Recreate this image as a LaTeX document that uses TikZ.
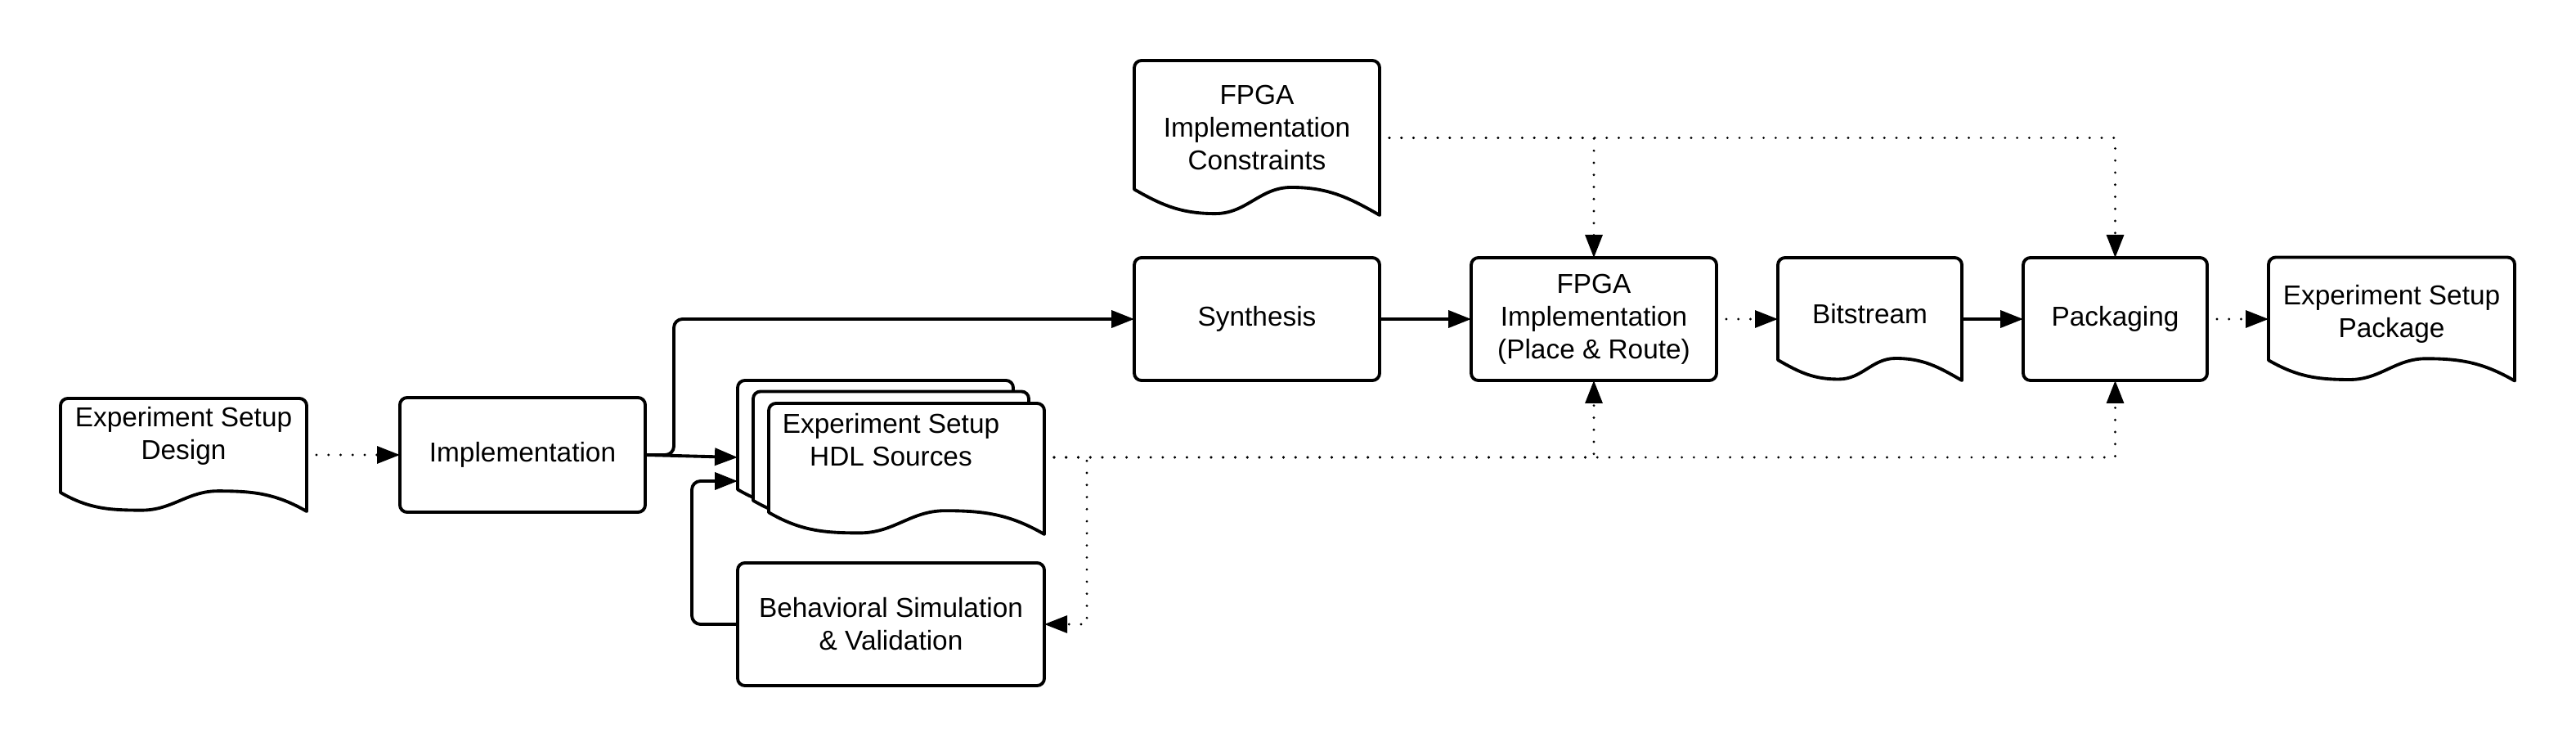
\documentclass[tikz,border=0pt]{standalone}
\usepackage{fontspec}
\setmainfont{Liberation Sans}
\usepackage{tikz}
\usetikzlibrary{arrows.meta,positioning,fit,backgrounds,calc}

\newcommand{\flowfont}{\fontsize{9.5}{11.4}\selectfont}

\begin{document}
\begin{tikzpicture}[
  node distance = 11mm and 11mm,
  box/.style    = {rectangle, draw, line width=1.1pt, rounded corners=2.5pt,
                   minimum width=30mm, minimum height=15mm, inner sep=1pt,
                   outer sep=0pt, align=center, font=\flowfont},
  sheet/.style  = {rectangle, inner sep=0pt, outer sep=0pt, minimum width=30mm},
  dtext/.style  = {align=center, font=\flowfont, inner sep=0pt},
  docline/.style= {line width=1.1pt, line join=round, fill=white},
  arr/.style    = {-{Triangle[length=2.8mm,width=2.1mm]}, line width=1.1pt},
  darr/.style   = {-{Triangle[length=2.8mm,width=2.1mm]}, line width=0.9pt,
                   line cap=round, dash pattern=on 0pt off 4.2pt,
                   shorten <=1.2mm}
]
\useasboundingbox (0,0) rectangle (31.5,-9.13);

% -- Design, implementation, HDL sources (left part) --
\node[sheet, minimum width=30.1mm, minimum height=13.8mm,
      label={[dtext, name=esd-t, yshift=2.3mm]center:Experiment Setup\\Design}]
      (esd) at (2.245,-5.56) {};
\node[box, minimum height=14mm, right=11.4mm of esd] (impl) {Implementation};

\node[sheet, minimum width=33.7mm, minimum height=16mm,
      right=11.3mm of impl, yshift=1.1mm] (hdlc) {};
\node[sheet, minimum width=33.7mm, minimum height=16mm]
      (hdlb) at ([shift={(0.19,-0.135)}]hdlc) {};
\node[sheet, minimum width=33.7mm, minimum height=16mm]
      (hdla) at ([shift={(0.38,-0.28)}]hdlc) {};
\node[fit=(hdlc)(hdla), inner sep=0pt, outer sep=0pt,
      label={[dtext, name=hdl-t, yshift=2.1mm]center:Experiment Setup\\HDL Sources}]
      (hdl) {};

\node[box, minimum width=37.5mm, below=3.5mm of hdl] (behav)
      {Behavioral Simulation\\\& Validation};

% -- Tool flow (upper row) --
\node[box] (synth) at (15.37,-3.90) {Synthesis};
\node[sheet, minimum height=18.9mm, above=5.2mm of synth,
      label={[dtext, name=constr-t, yshift=1.25mm]center:FPGA\\Implementation\\Constraints}]
      (constr) {};
\node[box, right=11.2mm of synth] (fpga) {FPGA\\Implementation\\(Place \& Route)};
\node[sheet, minimum width=22.5mm, minimum height=15mm, right=7.5mm of fpga,
      label={[dtext, name=bits-t, yshift=0.6mm]center:Bitstream}] (bits) {};
\node[box, minimum width=22.5mm, right=7.5mm of bits] (pack) {Packaging};
\node[sheet, minimum width=30.1mm, minimum height=15.1mm, right=7.5mm of pack,
      label={[dtext, name=espkg-t, yshift=0.6mm]center:Experiment Setup\\Package}] (espkg) {};

% -- Document outlines --
\begin{scope}[on background layer]
  \foreach \d in {esd, constr, bits, espkg, hdlc, hdlb, hdla}
    \draw[docline] let \p1=(\d.north west), \p2=(\d.south east),
                       \n1={\x2-\x1}, \n2={\y1-\y2} in
      (\p2) -- (\x2,{\y1-2.5pt}) arc[start angle=0, end angle=90, radius=2.5pt]
      -- ({\x1+2.5pt},\y1) arc[start angle=90, end angle=180, radius=2.5pt]
      -- (\x1,{\y2+0.167*\n2})
      to[out=-30,in=180] ({\x1+0.33*\n1},{\y2+0.01*\n2})
      to[out=0,in=180]   ({\x1+0.64*\n1},{\y2+0.18*\n2})
      to[out=0,in=150]   (\p2) -- cycle;
\end{scope}

% -- Arrows: solid --
\draw[arr] (impl.east) -- (hdl.west);
\draw[arr, rounded corners=3pt] (impl.east) -- ++(3.5mm,0) |- (synth.west);
\draw[arr, rounded corners=3pt] (behav.west) -- ++(-5.6mm,0)
           |- ([yshift=-2.9mm]hdl.west);
\draw[arr] (synth) -- (fpga);
\draw[arr] (bits)  -- (pack);

% -- Arrows: dotted --
\draw[darr] (esd.east)    -- (impl.west);
\draw[darr] (fpga.east)   -- (bits.west);
\draw[darr] (pack.east)   -- (espkg.west);
\draw[darr] (constr.east) -| (fpga.north);
\draw[darr] (constr.east) -| (pack.north);
\draw[darr] (hdl.east)    -| (fpga.south);
\draw[darr] (hdl.east)    -| (pack.south);
\draw[darr] (hdl.east)    -- ++(5.2mm,0) |- (behav.east);

\end{tikzpicture}
\end{document}
